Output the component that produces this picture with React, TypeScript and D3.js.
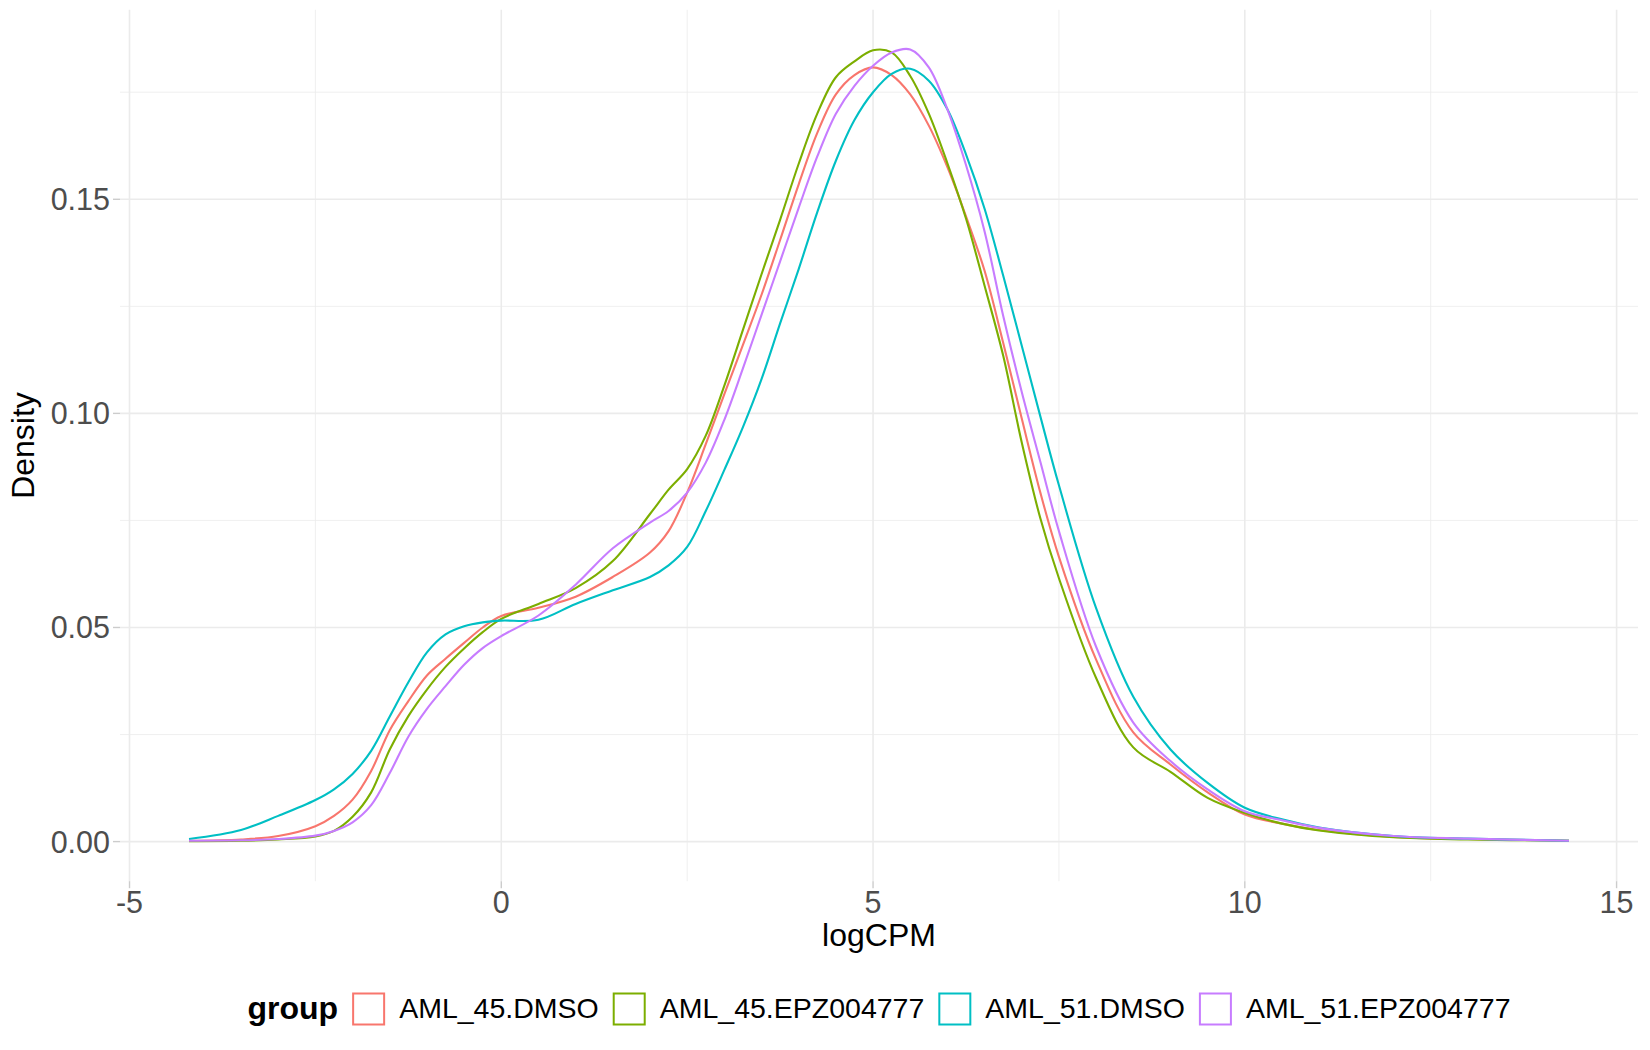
import { useEffect, useRef } from 'react';
import * as d3 from 'd3';

// logCPM grid the densities were read at
const logCPM = [-4.2, -3.5, -3, -2.5, -2.25, -2, -1.75, -1.5, -1.25, -1, -0.75, -0.5, -0.25, 0, 0.5, 1, 1.5, 2, 2.25, 2.5, 2.75, 3, 3.25, 3.5, 3.75, 4, 4.25, 4.5, 4.75, 5, 5.25, 5.5, 5.75, 6, 6.25, 6.5, 6.75, 7, 7.25, 7.5, 8, 8.5, 9, 9.5, 10, 10.5, 11, 12, 13, 14.36];

const aml45Dmso = [0.0002, 0.0005, 0.0013, 0.0036, 0.006, 0.0098, 0.0165, 0.026, 0.0328, 0.0388, 0.0427, 0.0464, 0.05, 0.0527, 0.0546, 0.0572, 0.0618, 0.0675, 0.0725, 0.0815, 0.0928, 0.1045, 0.116, 0.1277, 0.1405, 0.1535, 0.1655, 0.1745, 0.179, 0.1808, 0.179, 0.1745, 0.1672, 0.1575, 0.146, 0.1333, 0.1165, 0.0988, 0.0815, 0.0665, 0.0425, 0.0255, 0.018, 0.0115, 0.0063, 0.0042, 0.0027, 0.0011, 0.0006, 0.0002];
const aml45Epz = [0.0001, 0.0002, 0.0005, 0.0012, 0.0025, 0.0058, 0.0115, 0.0215, 0.0293, 0.0355, 0.0408, 0.0451, 0.0489, 0.052, 0.0555, 0.0592, 0.0655, 0.0765, 0.0822, 0.087, 0.0948, 0.1065, 0.1195, 0.1325, 0.1452, 0.1583, 0.17, 0.1785, 0.1822, 0.1848, 0.1843, 0.1788, 0.17, 0.1584, 0.1455, 0.1298, 0.1135, 0.0932, 0.0755, 0.0615, 0.0382, 0.022, 0.0163, 0.0102, 0.0067, 0.0042, 0.0026, 0.001, 0.0005, 0.0002];
const aml51Dmso = [0.0006, 0.0027, 0.006, 0.0097, 0.0122, 0.0158, 0.0212, 0.0292, 0.0372, 0.0442, 0.0484, 0.0503, 0.0512, 0.0516, 0.0518, 0.0555, 0.0587, 0.0618, 0.0645, 0.0688, 0.0772, 0.0868, 0.0968, 0.108, 0.121, 0.1337, 0.147, 0.159, 0.1685, 0.175, 0.1793, 0.1805, 0.1777, 0.171, 0.1605, 0.1478, 0.1322, 0.1158, 0.0993, 0.0832, 0.0545, 0.0338, 0.0215, 0.0137, 0.0079, 0.0052, 0.0033, 0.0013, 0.0007, 0.0002];
const aml51Epz = [0.0002, 0.0003, 0.0006, 0.0014, 0.0025, 0.0045, 0.0085, 0.016, 0.0245, 0.031, 0.0363, 0.0413, 0.0452, 0.048, 0.0528, 0.06, 0.0685, 0.0745, 0.0772, 0.0815, 0.0885, 0.0985, 0.1105, 0.123, 0.1355, 0.148, 0.16, 0.17, 0.1765, 0.1812, 0.1843, 0.185, 0.1808, 0.171, 0.158, 0.1425, 0.1228, 0.105, 0.0887, 0.0725, 0.0455, 0.0278, 0.0188, 0.0122, 0.0071, 0.005, 0.0032, 0.0013, 0.0007, 0.0002];

const groups = ['AML_45.DMSO', 'AML_45.EPZ004777', 'AML_51.DMSO', 'AML_51.EPZ004777'];
const groupValues = [aml45Dmso, aml45Epz, aml51Dmso, aml51Epz];
const groupColors = ['#F8766D', '#7CAE00', '#00BFC4', '#C77CFF'];

const xMajor = [-5, 0, 5, 10, 15];
const xMinor = [-2.5, 2.5, 7.5, 12.5];
const yMajor = [0, 0.05, 0.1, 0.15];
const yMinor = [0.025, 0.075, 0.125, 0.175];

const FONT = '"Liberation Sans", Arial, Helvetica, sans-serif';

const DensityChart = () => {
  const svgRef = useRef<SVGSVGElement>(null);

  useEffect(() => {
    if (!svgRef.current) return;
    document.body.style.margin = '0';

    d3.select(svgRef.current).selectAll('*').remove();

    const width = 1650;
    const height = 1050;
    const panel = { left: 120, right: 1638, top: 9.8, bottom: 881.2 };

    const svg = d3.select(svgRef.current)
      .attr('width', width)
      .attr('height', height)
      .style('font-family', FONT);

    // ggplot-style 5% expansion on both axes
    const [xLo, xHi] = d3.extent(logCPM) as [number, number];
    const xPad = (xHi - xLo) * 0.05;
    const x = d3.scaleLinear().domain([xLo - xPad, xHi + xPad]).range([panel.left, panel.right]);

    const yMax = d3.max(groupValues.flat()) as number;
    const y = d3.scaleLinear().domain([-yMax * 0.05, yMax * 1.05]).range([panel.bottom, panel.top]);

    const grid = svg.append('g');
    // minor grid
    grid.selectAll('.xminor').data(xMinor).enter().append('line')
      .attr('x1', d => x(d)).attr('x2', d => x(d))
      .attr('y1', panel.top).attr('y2', panel.bottom)
      .attr('stroke', '#EBEBEB').attr('stroke-width', 0.8);
    grid.selectAll('.yminor').data(yMinor).enter().append('line')
      .attr('x1', panel.left).attr('x2', panel.right)
      .attr('y1', d => y(d)).attr('y2', d => y(d))
      .attr('stroke', '#EBEBEB').attr('stroke-width', 0.8);
    // major grid
    grid.selectAll('.xmajor').data(xMajor).enter().append('line')
      .attr('x1', d => x(d)).attr('x2', d => x(d))
      .attr('y1', panel.top).attr('y2', panel.bottom)
      .attr('stroke', '#EBEBEB').attr('stroke-width', 1.6);
    grid.selectAll('.ymajor').data(yMajor).enter().append('line')
      .attr('x1', panel.left).attr('x2', panel.right)
      .attr('y1', d => y(d)).attr('y2', d => y(d))
      .attr('stroke', '#EBEBEB').attr('stroke-width', 1.6);

    // axis ticks
    grid.selectAll('.xtick').data(xMajor).enter().append('line')
      .attr('x1', d => x(d)).attr('x2', d => x(d))
      .attr('y1', panel.bottom).attr('y2', panel.bottom + 7)
      .attr('stroke', '#CCCCCC').attr('stroke-width', 1.4);
    grid.selectAll('.ytick').data(yMajor).enter().append('line')
      .attr('x1', panel.left - 7).attr('x2', panel.left)
      .attr('y1', d => y(d)).attr('y2', d => y(d))
      .attr('stroke', '#CCCCCC').attr('stroke-width', 1.4);

    // tick labels (plain hyphen for negatives, as in R)
    svg.selectAll('.xlabel').data(xMajor).enter().append('text')
      .attr('x', d => x(d))
      .attr('y', panel.bottom + 32)
      .attr('text-anchor', 'middle')
      .attr('font-size', 30.5)
      .attr('fill', '#4D4D4D')
      .text(d => String(d));
    svg.selectAll('.ylabel').data(yMajor).enter().append('text')
      .attr('x', panel.left - 10)
      .attr('y', d => y(d) + 11)
      .attr('text-anchor', 'end')
      .attr('font-size', 30.5)
      .attr('fill', '#4D4D4D')
      .text(d => d.toFixed(2));

    // axis titles
    svg.append('text')
      .attr('x', (panel.left + panel.right) / 2)
      .attr('y', 945.5)
      .attr('text-anchor', 'middle')
      .attr('font-size', 32)
      .attr('fill', '#000')
      .text('logCPM');
    svg.append('text')
      .attr('transform', `translate(34,${(panel.top + panel.bottom) / 2}) rotate(-90)`)
      .attr('text-anchor', 'middle')
      .attr('font-size', 32)
      .attr('fill', '#000')
      .text('Density');

    // density curves
    const line = d3.line<number>()
      .x((_, i) => x(logCPM[i]))
      .y(d => y(d))
      .curve(d3.curveCatmullRom.alpha(0.5));

    svg.append('g')
      .selectAll('path')
      .data(groupValues)
      .enter()
      .append('path')
      .attr('d', d => line(d))
      .attr('fill', 'none')
      .attr('stroke', (_, i) => groupColors[i])
      .attr('stroke-width', 2.1)
      .attr('stroke-linejoin', 'round');

    // legend, centred under the panel
    const legend = svg.append('g');
    const baseline = 1019;
    const keySize = 33;
    const gap = 14;
    const title = legend.append('text')
      .attr('y', baseline)
      .attr('font-size', 32)
      .attr('font-weight', 'bold')
      .attr('fill', '#000')
      .text('group');
    const labels = groups.map(g => legend.append('text')
      .attr('y', baseline - 1.5)
      .attr('font-size', 28.5)
      .attr('fill', '#000')
      .text(g));

    const titleW = (title.node() as SVGTextElement).getComputedTextLength();
    const labelW = labels.map(l => (l.node() as SVGTextElement).getComputedTextLength());
    const total = titleW + d3.sum(labelW) + groups.length * (keySize + 2 * gap);
    let cursor = (panel.left + panel.right) / 2 - total / 2;
    title.attr('x', cursor);
    cursor += titleW + gap;
    groups.forEach((_, i) => {
      legend.append('rect')
        .attr('x', cursor + 1)
        .attr('y', 992.5 + 1)
        .attr('width', keySize - 2)
        .attr('height', keySize - 2)
        .attr('fill', 'none')
        .attr('stroke', groupColors[i])
        .attr('stroke-width', 2);
      cursor += keySize + gap;
      labels[i].attr('x', cursor);
      cursor += labelW[i] + gap;
    });
  }, []);

  return <svg ref={svgRef} style={{ display: 'block' }} />;
};

export default function App() {
  return <DensityChart />;
}
